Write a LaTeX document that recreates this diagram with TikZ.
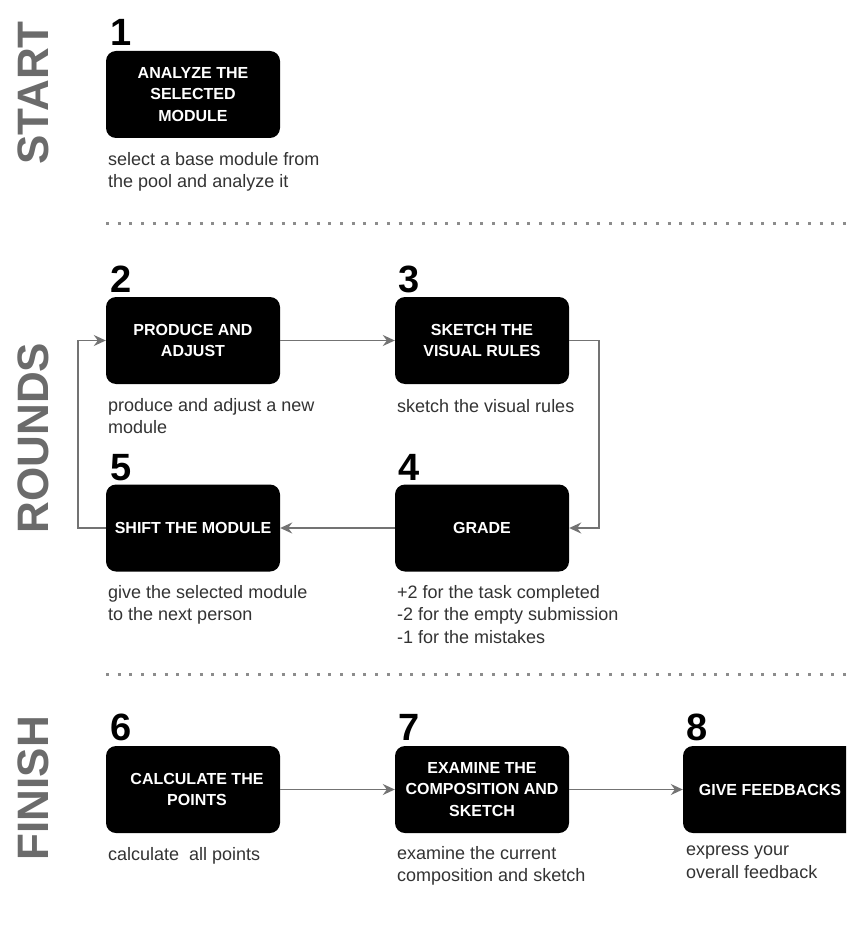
\documentclass[tikz,border=0pt]{standalone}
\usepackage{fontspec}
\setmainfont{Liberation Sans}
\usetikzlibrary{arrows.meta}
\tikzset{
 stepbox/.style={fill=black, rounded corners=10pt, minimum width=174pt, minimum height=87pt, inner sep=0pt, text=white, font=\fontsize{16}{21.7}\selectfont\bfseries, align=center},
 num/.style={anchor=base west, inner sep=0pt, font=\fontsize{38}{38}\selectfont\bfseries},
 desc/.style={anchor=north west, inner sep=0pt, align=left, text=black!80, font=\fontsize{18}{22.7}\selectfont, execute at begin node={\rule{0pt}{14pt}}},
 phase/.style={rotate=90, text=black!58, font=\fontsize{44}{44}\selectfont\bfseries, inner sep=0pt},
 flow/.style={draw=black!55, line width=1.5pt, -{Stealth[length=12pt,width=11pt,inset=4pt]}},
 sepline/.style={draw=black!45, line width=3pt, dash pattern=on 3pt off 8.7pt}
}
\begin{document}
\begin{tikzpicture}[x=1pt,y=-1pt]
\useasboundingbox (0,0) rectangle (846,933);
\clip (0,0) rectangle (846,933);
\fill[white] (0,0) rectangle (846,933);
% phase labels
\node[phase] (pstart) at (33,93) {START};
\node[phase] (prounds) at (33,438) {ROUNDS};
\node[phase] (pfinish) at (33,788) {FINISH};
% separators
\coordinate (s1a) at (106,224); \coordinate (s1b) at (846,224);
\coordinate (s2a) at (106,674); \coordinate (s2b) at (846,674);
\draw[sepline] (s1a) -- (s1b);
\draw[sepline] (s2a) -- (s2b);
% boxes
\node[stepbox] (b1) at (193,94.5) {ANALYZE THE\\SELECTED\\MODULE};
\node[stepbox] (b2) at (193,340.5) {PRODUCE AND\\ADJUST};
\node[stepbox] (b3) at (482,340.5) {SKETCH THE\\VISUAL RULES};
\node[stepbox] (b5) at (193,528) {SHIFT THE MODULE};
\node[stepbox] (b4) at (482,528) {GRADE};
\node[stepbox] (b6) at (193,789.5) {\hspace{8pt}CALCULATE THE\\\hspace{8pt}POINTS};
\node[stepbox] (b7) at (482,789.5) {EXAMINE THE\\COMPOSITION AND\\SKETCH};
\node[stepbox] (b8) at (770,789.5) {GIVE FEEDBACKS};
% numbers
\node[num] (n1) at (110,46) {1};
\node[num] (n2) at (110,292) {2};
\node[num] (n3) at (398,292) {3};
\node[num] (n5) at (110,480) {5};
\node[num] (n4) at (398,480) {4};
\node[num] (n6) at (110,740) {6};
\node[num] (n7) at (398,740) {7};
\node[num] (n8) at (686,740) {8};
% descriptions (first baseline = y + 14)
\node[desc] (d1) at (108,152) {select a base module from\\the pool and analyze it};
\node[desc] (d2) at (108,398) {produce and adjust a new\\module};
\node[desc] (d3) at (397,398) {sketch the visual rules};
\node[desc] (d5) at (108,585) {give the selected module\\to the next person};
\node[desc] (d4) at (397,585) {+2 for the task completed\\-2 for the empty submission\\-1 for the mistakes};
\node[desc] (d6) at (108,846) {calculate~ all points};
\node[desc] (d7) at (397,846) {examine the current\\composition and sketch};
\node[desc] (d8) at (686,846) {express your\\overall feedback};
% connectors
\draw[flow] (b2.east) -- (b3.west);
\draw[flow] (b3.east) -- ++(30,0) |- (b4.east);
\draw[flow] (b4.west) -- (b5.east);
\draw[flow] (b5.west) -- ++(-28,0) |- (b2.west);
\draw[flow] (b6.east) -- (b7.west);
\draw[flow] (b7.east) -- (b8.west);
\end{tikzpicture}
\end{document}
